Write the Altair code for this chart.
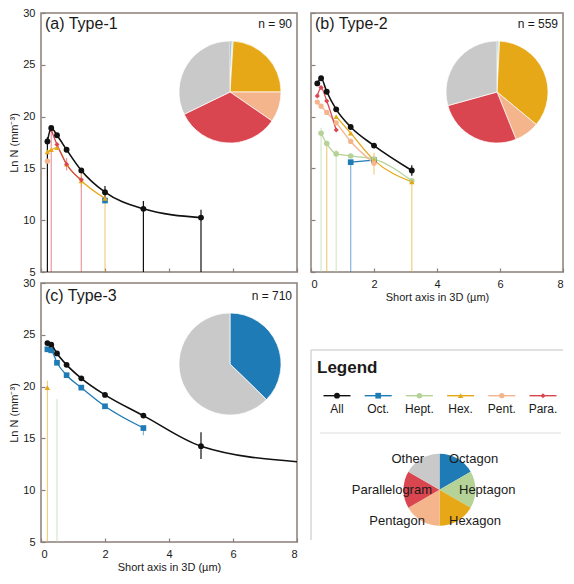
import altair as alt
import pandas as pd

FONT = "Liberation Sans"
FRAME = "#8a7f7a"
TXT = "#1a1a1a"

# ---------------- data ----------------
SERIES = ["All", "Oct.", "Hept.", "Hex.", "Pent.", "Para."]
PIE_CATS = ["Oct.", "Hept.", "Hex.", "Pent.", "Para.", "Other"]
PIE_NAMES = ["Octagon", "Heptagon", "Hexagon", "Pentagon", "Parallelogram", "Other"]
COLOR_DOMAIN = SERIES + ["Other"]
COLOR_RANGE = ["#111111", "#1f7bb6", "#b5d397", "#e6a817", "#f4b48c", "#d9464f", "#c9c9c9"]
SHAPE_RANGE = ["circle", "square", "circle", "triangle-up", "circle", "diamond"]
SIZE_RANGE = [34, 26, 20, 24, 20, 26]

BINS = [0.2, 0.32, 0.5, 0.8, 1.26, 2.0, 3.2, 5.0, 8.0]
X_TICKS = [0, 2, 4, 6, 8]
Y_TICKS = [5, 10, 15, 20, 25, 30]
_ = None

# panel (a) Type-1
a_all = [17.6, 18.9, 18.2, 16.8, 14.8, 12.7, 11.1, 10.25, _]
a_oct = [_, _, _, _, _, 11.9, _, _, _]
a_hept = [_, _, _, _, _, _, _, _, _]
a_hex = [16.6, 16.8, 17.0, 15.4, 13.8, 12.1, _, _, _]
a_pent = [15.7, _, _, _, _, _, _, _, _]
a_para = [_, 18.7, 17.3, 15.4, 13.9, _, _, _, _]
a_err = [("All", 0.2, 5, 18.0), ("All", 3.2, 5, 11.85), ("All", 5.0, 5, 11.0),
         ("All", 2.0, 12.1, 13.3), ("Para.", 0.32, 5, 18.7), ("Para.", 1.26, 5, 14.5),
         ("Para.", 0.8, 14.8, 16.0), ("Hex.", 2.0, 5, 12.6), ("Hex.", 1.26, 13.2, 14.4)]
a_pie = [0.6, 0.4, 24.0, 9.6, 33.2, 32.2]

# panel (b) Type-2
b_all = [23.2, 23.7, 22.4, 20.7, 19.0, 17.2, 14.8, _, _]
b_oct = [_, _, _, _, 15.6, 15.8, _, _, _]
b_hept = [_, 18.4, 17.4, 16.4, 16.2, 15.9, 13.8, _, _]
b_hex = [_, _, _, 20.0, 18.4, 15.8, 13.7, _, _]
b_pent = [21.4, 21.0, 20.4, 19.4, 17.6, 15.5, _, _, _]
b_para = [22.0, 22.8, 21.5, 18.7, _, _, _, _, _]
b_err = [("Hept.", 0.32, 5, 18.9), ("Hex.", 0.5, 5, 17.6), ("Hept.", 0.8, 5, 16.8),
         ("Oct.", 1.26, 5, 15.6), ("Hex.", 3.2, 5, 13.9), ("Hex.", 2.0, 14.4, 16.5),
         ("All", 3.2, 14.3, 15.3)]
b_pie = [0.4, 0.4, 35.2, 7.9, 26.8, 29.3]

# panel (c) Type-3
c_all = [24.2, 24.05, 23.2, 22.1, 20.8, 19.2, 17.2, 14.25, 12.75]
c_oct = [23.6, 23.5, 22.3, 21.1, 19.9, 18.1, 16.0, _, _]
c_hept = [_, _, _, _, _, _, _, _, _]
c_hex = [19.9, _, _, _, _, _, _, _, _]
c_pent = [_, _, _, _, _, _, _, _, _]
c_para = [_, _, _, _, _, _, _, _, _]
c_err = [("Hex.", 0.2, 5, 20.6), ("Hept.", 0.5, 5, 18.8), ("All", 5.0, 13.0, 15.6),
         ("Oct.", 3.2, 15.3, 16.0)]
c_pie = [37.3, 0, 0, 0, 0, 62.7]

LEGEND_PIE = [1, 1, 1, 1, 1, 1]

# ---------------- layout / style ----------------
PW_L, PW_R, PH = 256, 252, 259
PIE_R = 51
LEG_W = 252
LEG_TOP = 67      # legend box starts this far below the top of its cell
LEG_BOX_H = PH - LEG_TOP - 2

color_scale = alt.Scale(domain=COLOR_DOMAIN, range=COLOR_RANGE)
shape_scale = alt.Scale(domain=SERIES, range=SHAPE_RANGE)
size_scale = alt.Scale(domain=SERIES, range=SIZE_RANGE)


def series_df(vals):
    rows = []
    for s, arr in zip(SERIES, vals):
        for xv, yv in zip(BINS, arr):
            if yv is not None:
                rows.append({"series": s, "x": xv, "y": yv})
    return pd.DataFrame(rows)


def panel(vals, errs, pie, label, ntext, width, show_x, show_y, pie_c, lab_y):
    df = series_df(vals)
    others = df[df.series != "All"]
    alls = df[df.series == "All"]
    edf = pd.DataFrame(errs, columns=["series", "x", "lo", "hi"])
    pdf = pd.DataFrame({"cat": PIE_CATS, "v": pie, "k": list(range(6))})
    pdf = pdf[pdf.v > 0]

    xs = alt.Scale(domain=[0, 8], nice=False, zero=False)
    ys = alt.Scale(domain=[5, 30], nice=False, zero=False)
    xaxis = alt.Axis(values=X_TICKS, labels=show_x, offset=-4, tickSize=4,
                     tickColor=FRAME, tickWidth=1.2, domain=False, grid=False,
                     labelPadding=6, labelFontSize=11, labelColor=TXT,
                     title="Short axis in 3D (µm)" if show_x else None,
                     titleFontSize=11, titleFontWeight="normal", titleColor=TXT,
                     titlePadding=2)
    yaxis = alt.Axis(values=Y_TICKS, labels=show_y, offset=-4, tickSize=4,
                     tickColor=FRAME, tickWidth=1.2, domain=False, grid=False,
                     labelPadding=6, labelFontSize=11, labelColor=TXT,
                     title="Ln N (mm⁻³)" if show_y else None,
                     titleFontSize=11, titleFontWeight="normal", titleColor=TXT,
                     titlePadding=3)
    X = alt.X("x:Q", scale=xs, axis=xaxis)
    Y = alt.Y("y:Q", scale=ys, axis=yaxis)
    C = alt.Color("series:N", scale=color_scale, legend=None)

    err = alt.Chart(edf).mark_rule(clip=True, strokeWidth=1.2).encode(
        x=X, y=alt.Y("lo:Q", scale=ys, axis=yaxis), y2="hi:Q", color=C,
        opacity=alt.condition(alt.datum.series == "All", alt.value(1.0), alt.value(0.55)))
    lines_o = alt.Chart(others).mark_line(strokeWidth=1.3, interpolate="monotone",
                                          clip=True).encode(x=X, y=Y, color=C, detail="series:N")
    pts_o = alt.Chart(others).mark_point(filled=True, opacity=1, clip=True).encode(
        x=X, y=Y, color=C,
        shape=alt.Shape("series:N", scale=shape_scale, legend=None),
        size=alt.Size("series:N", scale=size_scale, legend=None))
    line_a = alt.Chart(alls).mark_line(strokeWidth=1.6, interpolate="monotone",
                                       clip=True).encode(x=X, y=Y, color=C)
    pts_a = alt.Chart(alls).transform_filter("datum.x < 8").mark_point(
        filled=True, opacity=1, clip=True).encode(
        x=X, y=Y, color=C,
        shape=alt.Shape("series:N", scale=shape_scale, legend=None),
        size=alt.Size("series:N", scale=size_scale, legend=None))
    arcs = alt.Chart(pdf).mark_arc(outerRadius=PIE_R, stroke="white", strokeWidth=0.7).encode(
        theta=alt.Theta("v:Q", stack=True),
        color=alt.Color("cat:N", scale=color_scale, legend=None),
        order=alt.Order("k:Q"),
        x=alt.value(pie_c[0]), y=alt.value(pie_c[1]))
    ttl = alt.Chart(pd.DataFrame({"t": [label]})).mark_text(
        align="left", baseline="middle", fontSize=16, color=TXT).encode(
        text="t:N", x=alt.value(4), y=alt.value(lab_y))
    ntx = alt.Chart(pd.DataFrame({"t": [ntext]})).mark_text(
        align="right", baseline="middle", fontSize=12, color=TXT).encode(
        text="t:N", x=alt.value(width - 5), y=alt.value(lab_y))
    return alt.layer(err, lines_o, pts_o, line_a, pts_a, arcs, ttl, ntx).properties(
        width=width, height=PH)


pa = panel([a_all, a_oct, a_hept, a_hex, a_pent, a_para], a_err, a_pie,
           "(a) Type-1", "n = 90", PW_L, False, True, (189, 79), 11)
pb = panel([b_all, b_oct, b_hept, b_hex, b_pent, b_para], b_err, b_pie,
           "(b) Type-2", "n = 559", PW_R, True, False, (186, 79), 11)
pc = panel([c_all, c_oct, c_hept, c_hex, c_pent, c_para], c_err, c_pie,
           "(c) Type-3", "n = 710", PW_L, True, True, (189, 81), 13)

# ---------------- legend panel ----------------
LX = alt.Scale(domain=[0, LEG_W], nice=False, zero=False)
LY = alt.Scale(domain=[-LEG_TOP, PH - LEG_TOP], nice=False, zero=False, reverse=True)

box = pd.DataFrame({"px": [0, 0], "px2": [LEG_W, 0], "py": [0, 0], "py2": [0, LEG_BOX_H]})
sep = pd.DataFrame({"px": [9], "px2": [LEG_W - 2], "py": [83], "py2": [83]})
sym = pd.DataFrame({"series": SERIES,
                    "px": [26 + 41.2 * i for i in range(6)],
                    "py": [45.7] * 6, "ty": [59] * 6})
sym["pa"] = sym.px - 13.5
sym["pb"] = sym.px + 13.5
lab_pos = {"Octagon": ("left", 138, 109), "Heptagon": ("left", 148, 140),
           "Hexagon": ("left", 138, 171), "Pentagon": ("right", 114, 171),
           "Parallelogram": ("right", 121, 140), "Other": ("right", 113, 109)}
plab = pd.DataFrame({"name": PIE_NAMES,
                     "al": [lab_pos[n][0] for n in PIE_NAMES],
                     "px": [lab_pos[n][1] for n in PIE_NAMES],
                     "py": [lab_pos[n][2] for n in PIE_NAMES]})
lpie = pd.DataFrame({"cat": PIE_CATS, "v": LEGEND_PIE, "k": list(range(6))})

LCOL = alt.Color("series:N", scale=color_scale, legend=None)
lx = alt.X("px:Q", scale=LX, axis=None)
ly = alt.Y("py:Q", scale=LY, axis=None)

l_box = alt.Chart(box).mark_rule(color="#d6d6d6", strokeWidth=1.5).encode(
    x=lx, x2="px2:Q", y=ly, y2="py2:Q")
l_sep = alt.Chart(sep).mark_rule(color="#dedede", strokeWidth=1.2).encode(
    x=lx, x2="px2:Q", y=ly, y2="py2:Q")
l_title = alt.Chart(pd.DataFrame({"t": ["Legend"], "px": [6], "py": [18]})).mark_text(
    align="left", baseline="middle", fontSize=17, fontWeight="bold", color=TXT).encode(
    text="t:N", x=lx, y=ly)
l_lines = alt.Chart(sym).mark_rule(strokeWidth=1.4).encode(
    x=alt.X("pa:Q", scale=LX, axis=None), x2="pb:Q", y=ly, color=LCOL)
l_pts = alt.Chart(sym).mark_point(filled=True, opacity=1).encode(
    x=lx, y=ly, color=LCOL,
    shape=alt.Shape("series:N", scale=shape_scale, legend=None),
    size=alt.Size("series:N", scale=size_scale, legend=None))
l_text = alt.Chart(sym).mark_text(baseline="middle", fontSize=12, color=TXT).encode(
    x=lx, y=alt.Y("ty:Q", scale=LY, axis=None), text="series:N")
l_pie = alt.Chart(lpie).mark_arc(outerRadius=36).encode(
    theta=alt.Theta("v:Q", stack=True),
    color=alt.Color("cat:N", scale=color_scale, legend=None),
    order=alt.Order("k:Q"),
    x=alt.value(128.5), y=alt.value(LEG_TOP + 139.7))
l_plab_l = alt.Chart(plab).transform_filter("datum.al == 'left'").mark_text(
    align="left", baseline="middle", fontSize=13, color=TXT).encode(
    x=lx, y=ly, text="name:N")
l_plab_r = alt.Chart(plab).transform_filter("datum.al == 'right'").mark_text(
    align="right", baseline="middle", fontSize=13, color=TXT).encode(
    x=lx, y=ly, text="name:N")

leg = alt.layer(l_box, l_sep, l_title, l_lines, l_pts, l_text, l_pie,
                l_plab_l, l_plab_r).properties(
    width=LEG_W, height=PH, view=alt.ViewBackground(stroke="transparent"))

chart = alt.concat(pa, pb, pc, leg, columns=2, bounds="flush",
                   spacing={"row": 11, "column": 14}).properties(
    padding={"top": -2, "left": 0, "right": 0, "bottom": 0}
).configure(font=FONT).configure_view(stroke=FRAME, strokeWidth=1.5)

chart.save("out.html", embed_options={"renderer": "svg", "actions": False})
